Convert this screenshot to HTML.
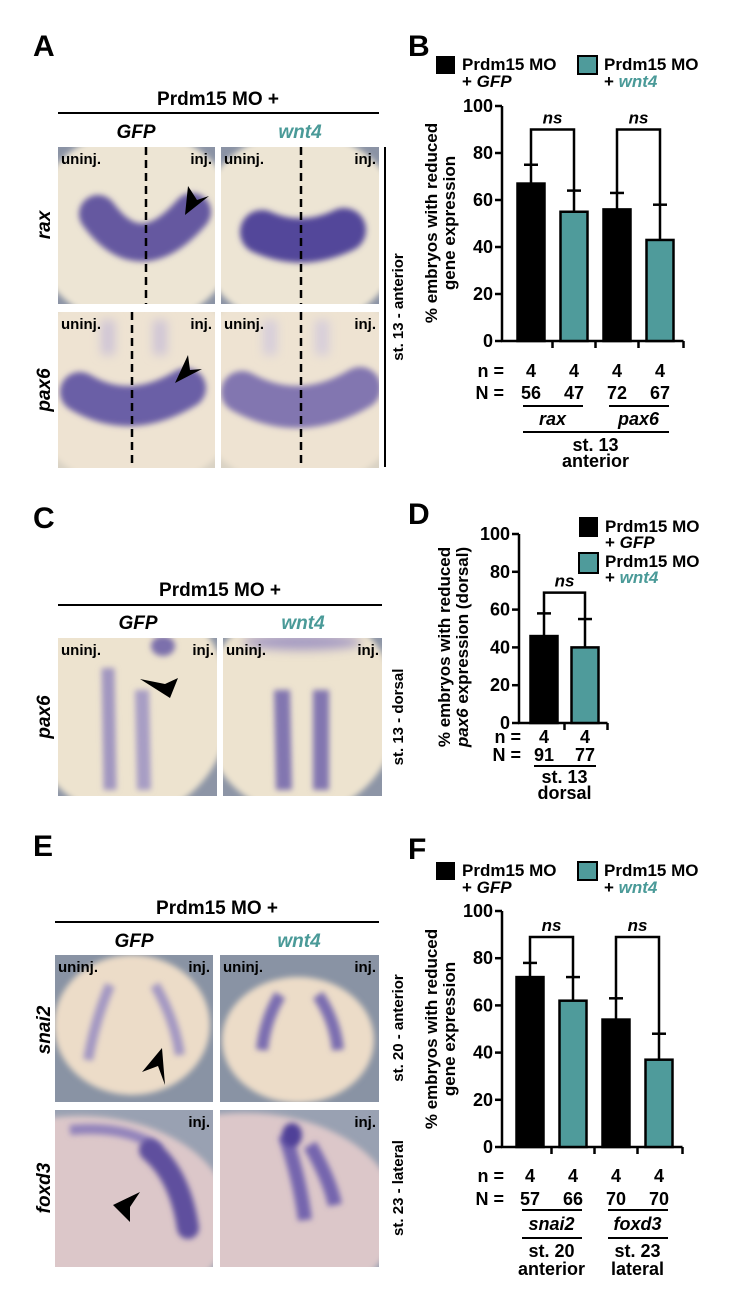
<!DOCTYPE html>
<html><head><meta charset="utf-8"><style>
html,body{margin:0;padding:0;background:#fff;}
svg{display:block;font-family:"Liberation Sans",Arial,sans-serif;font-weight:bold;}
</style></head><body>
<svg id="fig" width="748" height="1308" viewBox="0 0 748 1308" xmlns="http://www.w3.org/2000/svg">
<defs>
<filter id="b5" filterUnits="userSpaceOnUse" x="0" y="0" width="748" height="1308"><feGaussianBlur stdDeviation="5"/></filter>
<filter id="b3" filterUnits="userSpaceOnUse" x="0" y="0" width="748" height="1308"><feGaussianBlur stdDeviation="3"/></filter>
<clipPath id="c1"><rect x="58" y="147" width="157" height="157"/></clipPath>
<clipPath id="c2"><rect x="221" y="147" width="158" height="157"/></clipPath>
<clipPath id="c3"><rect x="58" y="312" width="157" height="156"/></clipPath>
<clipPath id="c4"><rect x="221" y="312" width="158" height="156"/></clipPath>
<clipPath id="c5"><rect x="58" y="638" width="159" height="158"/></clipPath>
<clipPath id="c6"><rect x="223" y="638" width="159" height="158"/></clipPath>
<clipPath id="c7"><rect x="55" y="955" width="158" height="147"/></clipPath>
<clipPath id="c8"><rect x="220" y="955" width="159" height="147"/></clipPath>
<clipPath id="c9"><rect x="55" y="1110" width="158" height="157"/></clipPath>
<clipPath id="c10"><rect x="220" y="1110" width="159" height="157"/></clipPath>
</defs>

<text x="33" y="56" font-size="30">A</text>
<text x="408" y="56" font-size="30">B</text>
<text x="33" y="528" font-size="30">C</text>
<text x="408" y="524" font-size="30">D</text>
<text x="33" y="856" font-size="30">E</text>
<text x="408" y="859" font-size="30">F</text>

<g>
<text x="218" y="105" font-size="19" text-anchor="middle">Prdm15 MO +</text>
<line x1="58" y1="113" x2="379" y2="113" stroke="#000" stroke-width="2"/>
<text x="136" y="138" font-size="19" font-style="italic" text-anchor="middle">GFP</text>
<text x="300" y="138" font-size="19" font-style="italic" text-anchor="middle" fill="#4a9a98">wnt4</text>
</g>
<text transform="translate(50,225) rotate(-90)" font-size="19" font-style="italic" text-anchor="middle">rax</text>
<text transform="translate(50,390) rotate(-90)" font-size="19" font-style="italic" text-anchor="middle">pax6</text>
<line x1="385" y1="147" x2="385" y2="467" stroke="#000" stroke-width="2"/>
<text transform="translate(403,307) rotate(-90)" font-size="15" text-anchor="middle">st. 13 - anterior</text>

<g clip-path="url(#c1)">
<rect x="58" y="147" width="157" height="157" fill="#8b93a5"/>
<ellipse cx="136" cy="228" rx="104" ry="98" fill="#ede5d4" filter="url(#b3)"/>
<path d="M98,214 Q140,272 192,212" stroke="#6558a0" stroke-width="38" fill="none" stroke-linecap="round" filter="url(#b3)"/>
<line x1="146" y1="147" x2="146" y2="304" stroke="#000" stroke-width="2.5" stroke-dasharray="8,5"/>
<polygon points="185,215 188,186 197,200 209,196" fill="#000"/>
<text x="61" y="164" font-size="15">uninj.</text><text x="212" y="164" font-size="15" text-anchor="end">inj.</text>
</g>
<g clip-path="url(#c2)">
<rect x="221" y="147" width="158" height="157" fill="#8b93a5"/>
<ellipse cx="300" cy="230" rx="104" ry="98" fill="#ede5d4" filter="url(#b3)"/>
<path d="M262,232 Q302,250 344,230" stroke="#52469a" stroke-width="44" fill="none" stroke-linecap="round" filter="url(#b3)"/>
<line x1="301" y1="147" x2="301" y2="304" stroke="#000" stroke-width="2.5" stroke-dasharray="8,5"/>
<text x="224" y="164" font-size="15">uninj.</text><text x="376" y="164" font-size="15" text-anchor="end">inj.</text>
</g>
<g clip-path="url(#c3)">
<rect x="58" y="312" width="157" height="156" fill="#d9d2c4"/>
<ellipse cx="136" cy="385" rx="112" ry="104" fill="#eee3d2" filter="url(#b3)"/>
<path d="M108,320 L108,355 M160,320 L160,355" stroke="#cfc5d6" stroke-width="14" fill="none" filter="url(#b5)"/>
<path d="M80,392 Q130,422 186,388" stroke="#6b5fa6" stroke-width="40" fill="none" stroke-linecap="round" filter="url(#b3)"/>
<line x1="132" y1="312" x2="132" y2="468" stroke="#000" stroke-width="2.5" stroke-dasharray="8,5"/>
<polygon points="175,383 188,355 190,370 202,369" fill="#000"/>
<text x="61" y="329" font-size="15">uninj.</text><text x="212" y="329" font-size="15" text-anchor="end">inj.</text>
</g>
<g clip-path="url(#c4)">
<rect x="221" y="312" width="158" height="156" fill="#d9d2c4"/>
<ellipse cx="300" cy="385" rx="112" ry="104" fill="#eee3d2" filter="url(#b3)"/>
<path d="M270,320 L270,355 M322,320 L322,355" stroke="#d6cdda" stroke-width="14" fill="none" filter="url(#b5)"/>
<path d="M242,392 Q300,424 360,388" stroke="#8276b0" stroke-width="42" fill="none" stroke-linecap="round" filter="url(#b3)"/>
<line x1="301" y1="312" x2="301" y2="468" stroke="#000" stroke-width="2.5" stroke-dasharray="8,5"/>
<text x="224" y="329" font-size="15">uninj.</text><text x="376" y="329" font-size="15" text-anchor="end">inj.</text>
</g>

<g>
<text x="220" y="596" font-size="19" text-anchor="middle">Prdm15 MO +</text>
<line x1="58" y1="605" x2="382" y2="605" stroke="#000" stroke-width="2"/>
<text x="138" y="629" font-size="19" font-style="italic" text-anchor="middle">GFP</text>
<text x="303" y="629" font-size="19" font-style="italic" text-anchor="middle" fill="#4a9a98">wnt4</text>
</g>
<text transform="translate(50,717) rotate(-90)" font-size="19" font-style="italic" text-anchor="middle">pax6</text>
<text transform="translate(403,717) rotate(-90)" font-size="15" text-anchor="middle">st. 13 - dorsal</text>
<g clip-path="url(#c5)">
<rect x="58" y="638" width="159" height="158" fill="#8d95a6"/>
<ellipse cx="128" cy="705" rx="102" ry="112" fill="#ede3cf" filter="url(#b3)"/>
<path d="M108,668 L110,790" stroke="#a196c0" stroke-width="13" fill="none" filter="url(#b3)"/>
<path d="M142,690 L144,790" stroke="#a79dc4" stroke-width="14" fill="none" filter="url(#b3)"/>
<ellipse cx="163" cy="646" rx="12" ry="10" fill="#7c70ac" filter="url(#b3)"/>
<polygon points="170,698 140,679 165,684 178,678" fill="#000"/>
<text x="61" y="655" font-size="15">uninj.</text><text x="214" y="655" font-size="15" text-anchor="end">inj.</text>
</g>
<g clip-path="url(#c6)">
<rect x="223" y="638" width="159" height="158" fill="#8d95a6"/>
<ellipse cx="300" cy="710" rx="98" ry="104" fill="#ede3cf" filter="url(#b3)"/>
<path d="M282,690 L284,790 M321,690 L321,790" stroke="#8276b0" stroke-width="16" fill="none" filter="url(#b3)"/>
<ellipse cx="302" cy="642" rx="60" ry="8" fill="#a69bc3" filter="url(#b5)"/>
<text x="226" y="655" font-size="15">uninj.</text><text x="379" y="655" font-size="15" text-anchor="end">inj.</text>
</g>

<g>
<text x="217" y="914" font-size="19" text-anchor="middle">Prdm15 MO +</text>
<line x1="55" y1="922" x2="379" y2="922" stroke="#000" stroke-width="2"/>
<text x="134" y="947" font-size="19" font-style="italic" text-anchor="middle">GFP</text>
<text x="299" y="947" font-size="19" font-style="italic" text-anchor="middle" fill="#4a9a98">wnt4</text>
</g>
<text transform="translate(50,1030) rotate(-90)" font-size="19" font-style="italic" text-anchor="middle">snai2</text>
<text transform="translate(50,1188) rotate(-90)" font-size="19" font-style="italic" text-anchor="middle">foxd3</text>
<text transform="translate(403,1028) rotate(-90)" font-size="15" text-anchor="middle">st. 20 - anterior</text>
<text transform="translate(403,1188) rotate(-90)" font-size="15" text-anchor="middle">st. 23 - lateral</text>
<g clip-path="url(#c7)">
<rect x="55" y="955" width="158" height="147" fill="#8993a4"/>
<ellipse cx="132" cy="1025" rx="78" ry="70" fill="#ecdcc8" filter="url(#b3)"/>
<path d="M110,985 Q95,1020 88,1060 M155,985 Q175,1020 180,1055" stroke="#a397c2" stroke-width="10" fill="none" filter="url(#b3)"/>
<polygon points="162,1048 142,1072 158,1066 165,1085" fill="#000"/>
<text x="58" y="972" font-size="15">uninj.</text><text x="210" y="972" font-size="15" text-anchor="end">inj.</text>
</g>
<g clip-path="url(#c8)">
<rect x="220" y="955" width="159" height="147" fill="#8993a4"/>
<ellipse cx="298" cy="1040" rx="76" ry="63" fill="#ecdcc8" filter="url(#b3)"/>
<path d="M280,995 Q265,1020 262,1050 M318,995 Q335,1020 338,1050" stroke="#7a6db0" stroke-width="12" fill="none" filter="url(#b3)"/>
<text x="223" y="972" font-size="15">uninj.</text><text x="376" y="972" font-size="15" text-anchor="end">inj.</text>
</g>
<g clip-path="url(#c9)">
<rect x="55" y="1110" width="158" height="157" fill="#99a1b2"/>
<ellipse cx="80" cy="1218" rx="150" ry="102" fill="#dcc7c9" filter="url(#b3)"/>
<path d="M70,1130 Q130,1125 160,1150" stroke="#9283bb" stroke-width="10" fill="none" filter="url(#b3)"/>
<path d="M150,1150 Q180,1175 188,1228" stroke="#5e4f9e" stroke-width="22" fill="none" stroke-linecap="round" filter="url(#b3)"/>
<polygon points="113,1205 140,1192 130,1207 130,1222" fill="#000"/>
<text x="210" y="1127" font-size="15" text-anchor="end">inj.</text>
</g>
<g clip-path="url(#c10)">
<rect x="220" y="1110" width="159" height="157" fill="#99a1b2"/>
<ellipse cx="245" cy="1215" rx="152" ry="102" fill="#dcc7c9" filter="url(#b3)"/>
<path d="M285,1135 Q300,1180 305,1220 M310,1145 Q330,1180 335,1205" stroke="#7565ae" stroke-width="14" fill="none" filter="url(#b3)"/>
<ellipse cx="292" cy="1135" rx="10" ry="12" fill="#4f4198" filter="url(#b3)"/>
<text x="376" y="1127" font-size="15" text-anchor="end">inj.</text>
</g>

<g>
<rect x="436" y="56" width="19" height="18" fill="#000"/>
<text x="462" y="70" font-size="17">Prdm15 MO</text><text x="462" y="87" font-size="17">+ <tspan font-style="italic">GFP</tspan></text>
<rect x="578" y="56" width="19" height="18" fill="#4f9b9b" stroke="#000" stroke-width="2"/>
<text x="604" y="70" font-size="17">Prdm15 MO</text><text x="604" y="87" font-size="17">+ <tspan font-style="italic" fill="#4a9a98">wnt4</tspan></text>
</g>
<g>
<rect x="579" y="517" width="19" height="20" fill="#000"/>
<text x="605" y="532" font-size="17">Prdm15 MO</text><text x="605" y="548" font-size="17">+ <tspan font-style="italic">GFP</tspan></text>
<rect x="579" y="553" width="19" height="20" fill="#4f9b9b" stroke="#000" stroke-width="2"/>
<text x="605" y="567" font-size="17">Prdm15 MO</text><text x="605" y="583" font-size="17">+ <tspan font-style="italic" fill="#4a9a98">wnt4</tspan></text>
</g>
<g>
<rect x="436" y="862" width="19" height="18" fill="#000"/>
<text x="462" y="876" font-size="17">Prdm15 MO</text><text x="462" y="893" font-size="17">+ <tspan font-style="italic">GFP</tspan></text>
<rect x="578" y="862" width="19" height="18" fill="#4f9b9b" stroke="#000" stroke-width="2"/>
<text x="604" y="876" font-size="17">Prdm15 MO</text><text x="604" y="893" font-size="17">+ <tspan font-style="italic" fill="#4a9a98">wnt4</tspan></text>
</g>

<g id="chartB"></g>
<g id="chartD"></g>
<g id="chartF"></g>
</svg>
<script>
const tickValues = [0, 20, 40, 60, 80, 100];
const bCategories = ['rax GFP', 'rax wnt4', 'pax6 GFP', 'pax6 wnt4'];
const bValues = [67, 55, 56, 43];
const bErrors = [8, 9, 7, 15];
const bSmallN = [4, 4, 4, 4];
const bBigN = [56, 47, 72, 67];
const bGenes = ['rax', 'pax6'];
const bStage = ['st. 13', 'anterior'];
const dCategories = ['pax6 GFP', 'pax6 wnt4'];
const dValues = [46, 40];
const dErrors = [12, 15];
const dSmallN = [4, 4];
const dBigN = [91, 77];
const dStage = ['st. 13', 'dorsal'];
const fCategories = ['snai2 GFP', 'snai2 wnt4', 'foxd3 GFP', 'foxd3 wnt4'];
const fValues = [72, 62, 54, 37];
const fErrors = [6, 10, 9, 11];
const fSmallN = [4, 4, 4, 4];
const fBigN = [57, 66, 70, 70];
const fGenes = ['snai2', 'foxd3'];
const fStages = [['st. 20', 'anterior'], ['st. 23', 'lateral']];

const NS = 'http://www.w3.org/2000/svg';
function mk(parent, tag, attrs, txt) {
  const e = document.createElementNS(NS, tag);
  for (const k in attrs) e.setAttribute(k, attrs[k]);
  if (txt !== undefined) e.textContent = txt;
  parent.appendChild(e);
  return e;
}

function drawChart(g, L, cats, vals, errs, sn, bn, titleLines, bracketTop) {
  const ys = v => L.y0 - v / 100 * (L.y0 - L.y100);
  const xs = i => L.first + i * L.step;
  const n = cats.length;
  const xEnd = xs(n - 1) + L.step / 2 + 2;
  const ya = mk(g, 'line', {x1: L.ax, y1: L.y100, x2: L.ax, y2: L.y0 + 1, stroke: '#000', 'stroke-width': 2.5});
  
  
  tickValues.forEach(t => {
    const tk = mk(g, 'line', {x1: L.ax - 7, y1: ys(t), x2: L.ax, y2: ys(t), stroke: '#000', 'stroke-width': 2.5});
    
    
    const tl = mk(g, 'text', {x: L.ax - 9, y: ys(t) + 6, 'font-size': 18, 'text-anchor': 'end'}, String(t));
    
    
  });
  const xa = mk(g, 'line', {x1: L.ax - 1, y1: L.y0, x2: xEnd, y2: L.y0, stroke: '#000', 'stroke-width': 2.5});
  
  
  for (let i = 1; i <= n; i++) {
    const tx = i === n ? xEnd : xs(i) - L.step / 2;
    const xt = mk(g, 'line', {x1: tx, y1: L.y0, x2: tx, y2: L.y0 + 7, stroke: '#000', 'stroke-width': 2.5});
    
    
  }
  const tt = mk(g, 'text', {transform: 'translate(' + L.tx + ',' + L.ty + ') rotate(-90)', 'font-size': 17, 'text-anchor': 'middle'});
  
  
  titleLines.forEach((line, k) => {
    const ts = mk(tt, 'tspan', {x: 0, dy: k === 0 ? 0 : 18});
    if (line.italic) { mk(ts, 'tspan', {'font-style': 'italic'}, line.italic); ts.appendChild(document.createTextNode(line.rest)); }
    else ts.textContent = line;
  });
  cats.forEach((c, i) => {
    const cx = xs(i), top = ys(vals[i]), et = ys(vals[i] + errs[i]);
    const eb = mk(g, 'line', {x1: cx, y1: top, x2: cx, y2: et, stroke: '#000', 'stroke-width': 2.5});
    
    
    const cap = mk(g, 'line', {x1: cx - 7, y1: et, x2: cx + 7, y2: et, stroke: '#000', 'stroke-width': 2.5});
    
    
    const r = mk(g, 'rect', {x: cx - L.bw / 2, y: top, width: L.bw, height: L.y0 - top, fill: i % 2 ? '#4f9b9b' : '#000', stroke: '#000', 'stroke-width': 2.5});
    
    
    const t1 = mk(g, 'text', {x: cx, y: L.y0 + L.nOff, 'font-size': 18, 'text-anchor': 'middle'}, String(sn[i]));
    
    
    const t2 = mk(g, 'text', {x: cx, y: L.y0 + L.NOff, 'font-size': 18, 'text-anchor': 'middle'}, String(bn[i]));
    
    
  });
  const nl = mk(g, 'text', {x: L.lblX, y: L.y0 + L.nOff, 'font-size': 18, 'text-anchor': 'end'}, 'n =');
  
  
  const Nl = mk(g, 'text', {x: L.lblX, y: L.y0 + L.NOff, 'font-size': 18, 'text-anchor': 'end'}, 'N =');
  
  
  for (let p = 0; p + 1 < n; p += 2) {
    const a = xs(p), b = xs(p + 1), yb = ys(bracketTop);
    const br = mk(g, 'path', {d: 'M' + a + ',' + ys(vals[p] + errs[p]) + ' L' + a + ',' + yb + ' L' + b + ',' + yb + ' L' + b + ',' + ys(vals[p + 1] + errs[p + 1]), fill: 'none', stroke: '#000', 'stroke-width': 2.5});
    
    
    const ns = mk(g, 'text', {x: (a + b) / 2, y: yb - 6, 'font-size': 17, 'font-style': 'italic', 'text-anchor': 'middle'}, 'ns');
    
    
  }
  return {xs: xs, ys: ys};
}

function hline(g, x1, x2, y, name) {
  const l = mk(g, 'line', {x1: x1, y1: y, x2: x2, y2: y, stroke: '#000', 'stroke-width': 2});
  
  
}
function label(g, x, y, s, italic, name) {
  const t = mk(g, 'text', {x: x, y: y, 'font-size': 18, 'text-anchor': 'middle', 'font-style': italic ? 'italic' : 'normal'}, s);
  
  
}

const gB = document.getElementById('chartB');
const LB = {ax: 502, y0: 341, y100: 106, first: 531, step: 43, bw: 27, tx: 437, ty: 223, nOff: 36, NOff: 58, lblX: 504};
const sB = drawChart(gB, LB, bCategories, bValues, bErrors, bSmallN, bBigN, ['% embryos with reduced', 'gene expression'], 90);
bGenes.forEach((gn, k) => {
  const a = sB.xs(2 * k), b = sB.xs(2 * k + 1);
  hline(gB, a - 8, b + 9, LB.y0 + 65, 'gene-underline');
  label(gB, (a + b) / 2, LB.y0 + 84, gn, true, 'gene-label');
});
hline(gB, sB.xs(0) - 8, sB.xs(3) + 9, LB.y0 + 91, 'stage-underline');
label(gB, (sB.xs(0) + sB.xs(3)) / 2, LB.y0 + 110, bStage[0], false, 'stage-label');
label(gB, (sB.xs(0) + sB.xs(3)) / 2, LB.y0 + 126, bStage[1], false, 'stage-label');

const gD = document.getElementById('chartD');
const LD = {ax: 519, y0: 723, y100: 534, first: 544, step: 41, bw: 27, tx: 450, ty: 647, nOff: 20, NOff: 38, lblX: 521};
const sD = drawChart(gD, LD, dCategories, dValues, dErrors, dSmallN, dBigN, ['% embryos with reduced', {italic: 'pax6', rest: ' expression (dorsal)'}], 69);
hline(gD, sD.xs(0) - 10, sD.xs(1) + 11, LD.y0 + 43, 'stage-underline');
label(gD, (sD.xs(0) + sD.xs(1)) / 2, LD.y0 + 60, dStage[0], false, 'stage-label');
label(gD, (sD.xs(0) + sD.xs(1)) / 2, LD.y0 + 76, dStage[1], false, 'stage-label');

const gF = document.getElementById('chartF');
const LF = {ax: 502, y0: 1147, y100: 911, first: 530, step: 43, bw: 27, tx: 437, ty: 1029, nOff: 35, NOff: 58, lblX: 504};
const sF = drawChart(gF, LF, fCategories, fValues, fErrors, fSmallN, fBigN, ['% embryos with reduced', 'gene expression'], 89);
fGenes.forEach((gn, k) => {
  const a = sF.xs(2 * k), b = sF.xs(2 * k + 1);
  hline(gF, a - 8, b + 9, LF.y0 + 63, 'gene-underline');
  label(gF, (a + b) / 2, LF.y0 + 83, gn, true, 'gene-label');
  hline(gF, a - 8, b + 9, LF.y0 + 91, 'stage-underline');
  label(gF, (a + b) / 2, LF.y0 + 110, fStages[k][0], false, 'stage-label');
  label(gF, (a + b) / 2, LF.y0 + 128, fStages[k][1], false, 'stage-label');
});
</script>
</body></html>
